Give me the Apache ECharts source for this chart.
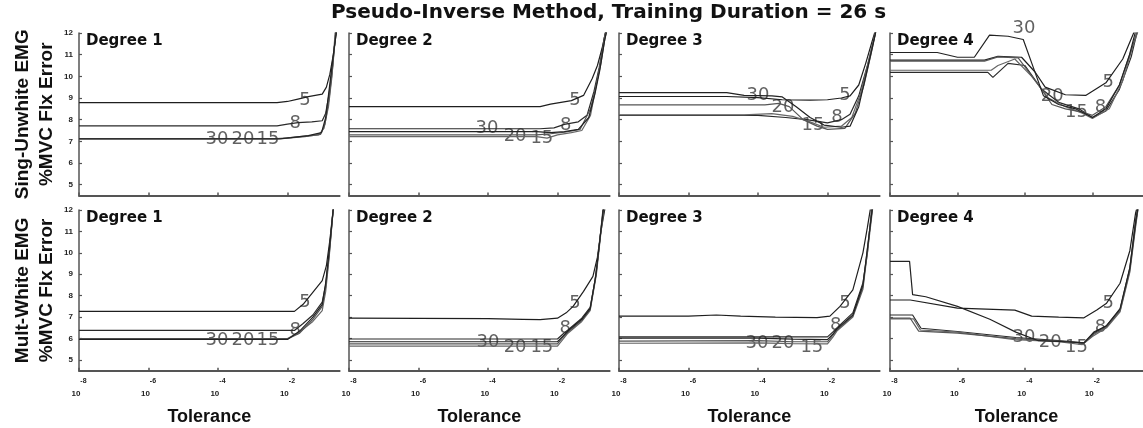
<!DOCTYPE html>
<html><head><meta charset="utf-8">
<script src="https://cdn.jsdelivr.net/npm/echarts@6/dist/echarts.min.js"></script>
<style>html,body{margin:0;padding:0;background:#fff}#c{width:1143px;height:428px}</style>
</head><body><div id="c"></div>
<script>
// x values are exponents: tolerance = 10^x
const xTickExps = [-8, -6, -4, -2];
const yTicks = [5, 6, 7, 8, 9, 10, 11, 12];
const mainTitle = 'Pseudo-Inverse Method, Training Duration = 26 s';
const rowNames = ['Sing-Unwhite EMG\n%MVC Flx Error', 'Mult-White EMG\n%MVC Flx Error'];
const degreeLabels = ['Degree 1', 'Degree 2', 'Degree 3', 'Degree 4'];
const seriesNames = ['5', '8', '15', '20', '30'];
const xName = 'Tolerance';

// ---- Sing-Unwhite EMG ----
const sing1_5  = [[-8,8.79],[-2.3,8.79],[-2.0,8.84],[-1.7,8.95],[-1.4,9.06],[-1.0,9.18],[-0.88,9.5],[-0.78,10.1],[-0.68,11.0],[-0.58,12.2]];
const sing1_8  = [[-8,7.71],[-2.3,7.71],[-2.0,7.79],[-1.7,7.86],[-1.3,7.9],[-1.0,7.95],[-0.9,8.3],[-0.8,9.2],[-0.7,10.5],[-0.6,12.2]];
const sing1_15 = [[-8,7.13],[-2.3,7.13],[-2.0,7.16],[-1.5,7.24],[-1.1,7.3],[-0.95,7.6],[-0.82,8.6],[-0.72,10.0],[-0.62,12.2]];
const sing1_20 = [[-8,7.1],[-2.3,7.1],[-2.0,7.15],[-1.5,7.22],[-1.05,7.32],[-0.92,7.8],[-0.8,9.0],[-0.7,10.4],[-0.6,12.2]];
const sing1_30 = [[-8,7.12],[-2.2,7.12],[-1.9,7.17],[-1.4,7.26],[-1.02,7.4],[-0.9,8.1],[-0.8,9.4],[-0.68,11.0],[-0.58,12.2]];
const sing1_labels = [[-1.5,8.91,'5'],[-1.78,7.85,'8'],[-4.03,7.07,'30'],[-3.28,7.07,'20'],[-2.56,7.07,'15']];

const sing2_5  = [[-8,8.6],[-2.5,8.6],[-2.2,8.72],[-1.9,8.8],[-1.6,8.88],[-1.25,9.12],[-1.0,9.9],[-0.85,10.5],[-0.7,11.4],[-0.6,12.2]];
const sing2_8  = [[-8,7.58],[-2.5,7.58],[-2.1,7.62],[-1.8,7.78],[-1.4,7.9],[-1.15,8.2],[-0.95,9.3],[-0.8,10.4],[-0.65,11.8],[-0.58,12.2]];
const sing2_15 = [[-8,7.22],[-2.6,7.22],[-2.3,7.15],[-2.0,7.3],[-1.6,7.4],[-1.3,7.5],[-1.05,8.2],[-0.88,9.6],[-0.72,11.0],[-0.6,12.2]];
const sing2_20 = [[-8,7.3],[-2.6,7.3],[-2.2,7.35],[-1.8,7.42],[-1.35,7.55],[-1.05,8.5],[-0.9,9.5],[-0.75,10.6],[-0.63,11.8],[-0.56,12.2]];
const sing2_30 = [[-8,7.45],[-2.6,7.45],[-2.2,7.4],[-1.8,7.45],[-1.4,7.55],[-1.1,8.1],[-0.92,9.2],[-0.78,10.3],[-0.65,11.6],[-0.57,12.2]];
const sing2_labels = [[-1.5,8.91,'5'],[-1.76,7.76,'8'],[-4.03,7.62,'30'],[-3.22,7.21,'20'],[-2.45,7.12,'15']];

const sing3_5  = [[-8,9.07],[-4.9,9.07],[-4.0,9.02],[-3.3,8.92],[-2.5,8.9],[-2.0,8.92],[-1.6,9.0],[-1.35,9.1],[-1.1,9.6],[-0.9,10.6],[-0.7,11.7],[-0.55,12.5]];
const sing3_8  = [[-8,8.2],[-4.0,8.2],[-3.2,8.1],[-2.6,8.0],[-2.0,7.85],[-1.6,8.0],[-1.35,8.25],[-1.1,9.1],[-0.85,10.5],[-0.65,11.8],[-0.55,12.5]];
const sing3_15 = [[-8,8.22],[-4.4,8.22],[-3.6,8.28],[-3.0,8.15],[-2.5,7.9],[-2.1,7.65],[-1.6,7.7],[-1.3,8.1],[-1.05,9.2],[-0.8,10.8],[-0.6,12.2]];
const sing3_20 = [[-8,8.68],[-3.8,8.68],[-3.4,8.75],[-3.1,8.6],[-2.7,8.0],[-2.3,7.7],[-2.0,7.55],[-1.5,7.6],[-1.2,8.3],[-0.95,9.6],[-0.75,11.0],[-0.55,12.5]];
const sing3_30 = [[-8,9.25],[-4.9,9.25],[-4.4,9.12],[-3.6,9.1],[-3.3,9.05],[-2.9,8.6],[-2.5,8.1],[-2.1,7.75],[-1.6,7.65],[-1.35,7.7],[-1.1,8.6],[-0.9,10.0],[-0.7,11.4],[-0.55,12.5]];
const sing3_labels = [[-1.5,9.14,'5'],[-1.73,8.13,'8'],[-4.0,9.14,'30'],[-3.28,8.59,'20'],[-2.42,7.76,'15']];

const sing4_5  = [[-8,10.75],[-5.2,10.75],[-4.8,10.92],[-4.1,10.88],[-3.7,10.2],[-3.4,9.5],[-2.8,9.15],[-2.2,9.12],[-1.6,9.7],[-1.1,10.8],[-0.75,12.1]];
const sing4_8  = [[-8,10.18],[-5.1,10.18],[-4.95,9.95],[-4.5,10.6],[-4.0,10.5],[-3.5,9.4],[-3.0,8.8],[-2.4,8.5],[-2.0,8.1],[-1.6,8.4],[-1.2,9.4],[-0.85,10.9],[-0.65,12.2]];
const sing4_15 = [[-8,10.28],[-5.0,10.28],[-4.8,10.5],[-4.3,10.8],[-3.8,10.0],[-3.3,9.0],[-2.8,8.6],[-2.3,8.3],[-2.0,8.05],[-1.5,8.5],[-1.1,9.8],[-0.8,11.4],[-0.6,12.3]];
const sing4_20 = [[-8,10.7],[-5.2,10.7],[-4.8,10.9],[-4.2,10.85],[-3.6,9.6],[-3.2,8.7],[-2.8,8.5],[-2.3,8.35],[-2.0,8.2],[-1.6,8.6],[-1.2,9.6],[-0.85,11.2],[-0.65,12.2]];
const sing4_30 = [[-8,11.1],[-6.6,11.1],[-6.0,10.88],[-5.5,10.88],[-5.05,11.9],[-4.5,11.85],[-4.05,11.7],[-3.75,10.4],[-3.45,9.1],[-3.0,8.7],[-2.5,8.5],[-2.0,8.1],[-1.6,8.5],[-1.2,9.6],[-0.9,11.0],[-0.7,12.2]];
const sing4_labels = [[-1.53,9.74,'5'],[-1.76,8.59,'8'],[-4.03,12.23,'30'],[-3.19,9.1,'20'],[-2.47,8.36,'15']];

// ---- Mult-White EMG ----
const mult1_5  = [[-8,7.27],[-1.8,7.27],[-1.55,7.6],[-1.3,8.1],[-1.0,8.7],[-0.88,9.4],[-0.78,10.6],[-0.68,12.1]];
const mult1_8  = [[-8,6.38],[-1.8,6.38],[-1.55,6.7],[-1.27,7.1],[-1.0,7.7],[-0.9,8.5],[-0.8,10.0],[-0.68,12.1]];
const mult1_15 = [[-8,6.0],[-2.0,6.0],[-1.65,6.3],[-1.27,6.8],[-1.0,7.3],[-0.9,8.2],[-0.8,9.8],[-0.68,12.1]];
const mult1_20 = [[-8,5.98],[-2.0,5.98],[-1.65,6.25],[-1.27,6.9],[-1.0,7.5],[-0.9,8.4],[-0.8,9.9],[-0.68,12.1]];
const mult1_30 = [[-8,5.96],[-2.0,5.96],[-1.65,6.35],[-1.27,7.0],[-1.0,7.6],[-0.9,8.6],[-0.8,10.1],[-0.68,12.1]];
const mult1_labels = [[-1.5,7.71,'5'],[-1.78,6.4,'8'],[-4.03,5.93,'30'],[-3.28,5.93,'20'],[-2.56,5.93,'15']];

const mult2_5  = [[-8,6.95],[-4,6.93],[-3.0,6.9],[-2.5,6.88],[-2.0,6.95],[-1.75,7.2],[-1.55,7.5],[-1.25,8.2],[-0.98,8.9],[-0.85,9.8],[-0.75,11.0],[-0.62,12.2]];
const mult2_8  = [[-8,5.98],[-2.0,5.98],[-1.85,6.2],[-1.7,6.4],[-1.3,6.95],[-1.06,7.45],[-0.92,8.7],[-0.8,10.3],[-0.68,12.2]];
const mult2_15 = [[-8,5.65],[-2.0,5.65],[-1.85,5.95],[-1.7,6.25],[-1.3,6.8],[-1.06,7.3],[-0.88,9.0],[-0.76,10.8],[-0.65,12.2]];
const mult2_20 = [[-8,5.75],[-2.0,5.75],[-1.85,6.05],[-1.7,6.3],[-1.3,6.85],[-1.06,7.35],[-0.88,9.1],[-0.77,10.8],[-0.66,12.2]];
const mult2_30 = [[-8,5.85],[-2.0,5.85],[-1.85,6.1],[-1.7,6.35],[-1.3,6.9],[-1.06,7.4],[-0.9,8.9],[-0.78,10.6],[-0.67,12.2]];
const mult2_labels = [[-1.5,7.66,'5'],[-1.78,6.49,'8'],[-4.0,5.84,'30'],[-3.22,5.61,'20'],[-2.45,5.61,'15']];

const mult3_5  = [[-8,7.05],[-6,7.05],[-5.2,7.1],[-4.5,7.05],[-3.5,7.0],[-2.3,6.98],[-1.93,7.05],[-1.64,7.5],[-1.27,8.27],[-0.98,10.0],[-0.85,11.2],[-0.75,12.2]];
const mult3_8  = [[-8,6.08],[-2.0,6.08],[-1.85,6.3],[-1.73,6.5],[-1.27,7.2],[-0.98,8.6],[-0.85,10.0],[-0.72,12.2]];
const mult3_15 = [[-8,5.78],[-4,5.8],[-3,5.76],[-2.0,5.75],[-1.85,6.05],[-1.73,6.35],[-1.27,7.0],[-0.98,8.3],[-0.8,10.7],[-0.69,12.2]];
const mult3_20 = [[-8,5.88],[-4,5.9],[-3,5.85],[-2.0,5.85],[-1.85,6.15],[-1.73,6.4],[-1.27,7.05],[-0.98,8.4],[-0.8,10.9],[-0.7,12.2]];
const mult3_30 = [[-8,6.02],[-4,6.02],[-3,5.97],[-2.0,5.95],[-1.85,6.2],[-1.73,6.45],[-1.27,7.1],[-0.98,8.5],[-0.82,10.6],[-0.7,12.2]];
const mult3_labels = [[-1.5,7.66,'5'],[-1.76,6.63,'8'],[-4.03,5.79,'30'],[-3.28,5.79,'20'],[-2.45,5.61,'15']];

const mult4_5  = [[-8,7.8],[-7.4,7.8],[-6.0,7.42],[-4.3,7.33],[-3.8,7.05],[-3.0,7.0],[-2.25,6.97],[-1.87,7.33],[-1.58,7.65],[-1.18,8.58],[-0.89,10.1],[-0.72,11.85],[-0.6,12.6]];
const mult4_8  = [[-8,7.1],[-7.33,7.1],[-7.08,6.48],[-6.0,6.33],[-4.27,6.05],[-3.0,5.9],[-2.25,5.8],[-1.96,6.25],[-1.58,6.6],[-1.18,7.35],[-0.89,9.3],[-0.72,11.5],[-0.6,12.6]];
const mult4_15 = [[-8,6.92],[-7.3,6.92],[-7.1,6.4],[-6.0,6.3],[-4.3,5.95],[-3.0,5.85],[-2.3,5.72],[-2.0,6.1],[-1.58,6.5],[-1.18,7.25],[-0.89,9.1],[-0.72,11.2],[-0.6,12.6]];
const mult4_20 = [[-8,6.95],[-7.4,6.95],[-7.15,6.35],[-6.0,6.25],[-4.27,6.0],[-3.0,5.88],[-2.25,5.78],[-1.96,6.2],[-1.58,6.55],[-1.18,7.3],[-0.89,9.2],[-0.72,11.3],[-0.6,12.6]];
const mult4_30 = [[-8,9.6],[-7.42,9.6],[-7.33,8.05],[-6.94,7.95],[-6.0,7.5],[-5.04,6.9],[-4.27,6.3],[-3.6,5.9],[-2.8,5.85],[-2.25,5.8],[-1.96,6.3],[-1.58,6.6],[-1.18,7.4],[-0.89,9.3],[-0.72,11.4],[-0.6,12.6]];
const mult4_labels = [[-1.53,7.66,'5'],[-1.76,6.54,'8'],[-4.03,6.07,'30'],[-3.25,5.84,'20'],[-2.47,5.61,'15']];

const panelLines = [
  [sing1_5, sing1_8, sing1_15, sing1_20, sing1_30],
  [sing2_5, sing2_8, sing2_15, sing2_20, sing2_30],
  [sing3_5, sing3_8, sing3_15, sing3_20, sing3_30],
  [sing4_5, sing4_8, sing4_15, sing4_20, sing4_30],
  [mult1_5, mult1_8, mult1_15, mult1_20, mult1_30],
  [mult2_5, mult2_8, mult2_15, mult2_20, mult2_30],
  [mult3_5, mult3_8, mult3_15, mult3_20, mult3_30],
  [mult4_5, mult4_8, mult4_15, mult4_20, mult4_30]
];
const panelLabels = [sing1_labels, sing2_labels, sing3_labels, sing4_labels,
                     mult1_labels, mult2_labels, mult3_labels, mult4_labels];

// ---- layout / styles ----
const colLeft = [79, 349, 619, 890];
const rowTop = [33, 210];
const rowHeight = [162.5, 160.7];
const panelWidth = 260.6;
const lineColors = ['#1e1e1e', '#2a2a2a', '#666', '#555', '#222'];
const axisColor = '#555';

const grids = [], xAxes = [], yAxes = [], series = [];
const titles = [{
  text: mainTitle, left: 331, top: 3, padding: 0,
  textStyle: { fontFamily: 'DejaVu Sans', fontWeight: 'bold', fontSize: 20, color: '#111' }
}];

for (let p = 0; p < 8; p++) {
  const row = Math.floor(p / 4), col = p % 4;
  grids.push({ left: colLeft[col], top: rowTop[row], width: panelWidth, height: rowHeight[row], containLabel: false });
  xAxes.push({
    type: 'value', gridIndex: p, min: -8, max: -0.5,
    axisLine: { show: true, lineStyle: { color: axisColor, width: 2 } },
    axisTick: { show: true, inside: true, length: 3, customValues: xTickExps, lineStyle: { color: axisColor, width: 1.5 } },
    axisLabel: {
      show: row === 1, customValues: xTickExps, margin: 7,
      formatter: v => '{b|10}{s|' + v + '}',
      rich: {
        b: { fontFamily: 'Liberation Sans', fontWeight: 'bold', fontSize: 8, color: '#222', lineHeight: 20, verticalAlign: 'bottom' },
        s: { fontFamily: 'Liberation Sans', fontWeight: 'bold', fontSize: 7, color: '#222', lineHeight: 20, verticalAlign: 'top' }
      }
    },
    splitLine: { show: false },
    name: row === 1 ? xName : '', nameLocation: 'middle', nameGap: 37,
    nameTextStyle: { fontFamily: 'Liberation Sans', fontWeight: 'bold', fontSize: 18, color: '#111' }
  });
  yAxes.push({
    type: 'value', gridIndex: p, min: 4.5, max: 12,
    axisLine: { show: true, lineStyle: { color: axisColor, width: 1.5 } },
    axisTick: { show: true, inside: true, length: 3, customValues: yTicks, lineStyle: { color: axisColor, width: 1.2 } },
    axisLabel: {
      show: col === 0, customValues: yTicks, margin: 6,
      fontFamily: 'Liberation Sans', fontWeight: 'bold', fontSize: 8, color: '#222'
    },
    splitLine: { show: false },
    name: col === 0 ? rowNames[row] : '', nameLocation: 'middle', nameGap: 20,
    nameTextStyle: { fontFamily: 'Liberation Sans', fontWeight: 'bold', fontSize: 19, lineHeight: 24, color: '#111' }
  });
  titles.push({
    text: degreeLabels[col], left: colLeft[col] + 7, top: rowTop[row] + 1, padding: 0,
    textStyle: { fontFamily: 'DejaVu Sans', fontWeight: 'bold', fontSize: 15, color: '#111' }
  });
  panelLines[p].forEach((d, k) => {
    series.push({
      type: 'line', name: seriesNames[k], xAxisIndex: p, yAxisIndex: p, data: d,
      showSymbol: false, symbol: 'none', z: 3,
      lineStyle: { color: lineColors[k], width: 1.2 }
    });
  });
  series.push({
    type: 'scatter', xAxisIndex: p, yAxisIndex: p, data: panelLabels[p],
    symbol: 'circle', symbolSize: 2, itemStyle: { color: 'rgba(0,0,0,0)' }, clip: false, z: 2, silent: true,
    label: {
      show: true, position: 'inside', formatter: q => q.value[2],
      fontFamily: 'DejaVu Sans', fontSize: 18, color: '#3a3a3a'
    }
  });
}

const chart = echarts.init(document.getElementById('c'), null, { renderer: 'canvas' });
chart.setOption({
  backgroundColor: '#fff', animation: false,
  title: titles, grid: grids, xAxis: xAxes, yAxis: yAxes, series: series
});
</script></body></html>
